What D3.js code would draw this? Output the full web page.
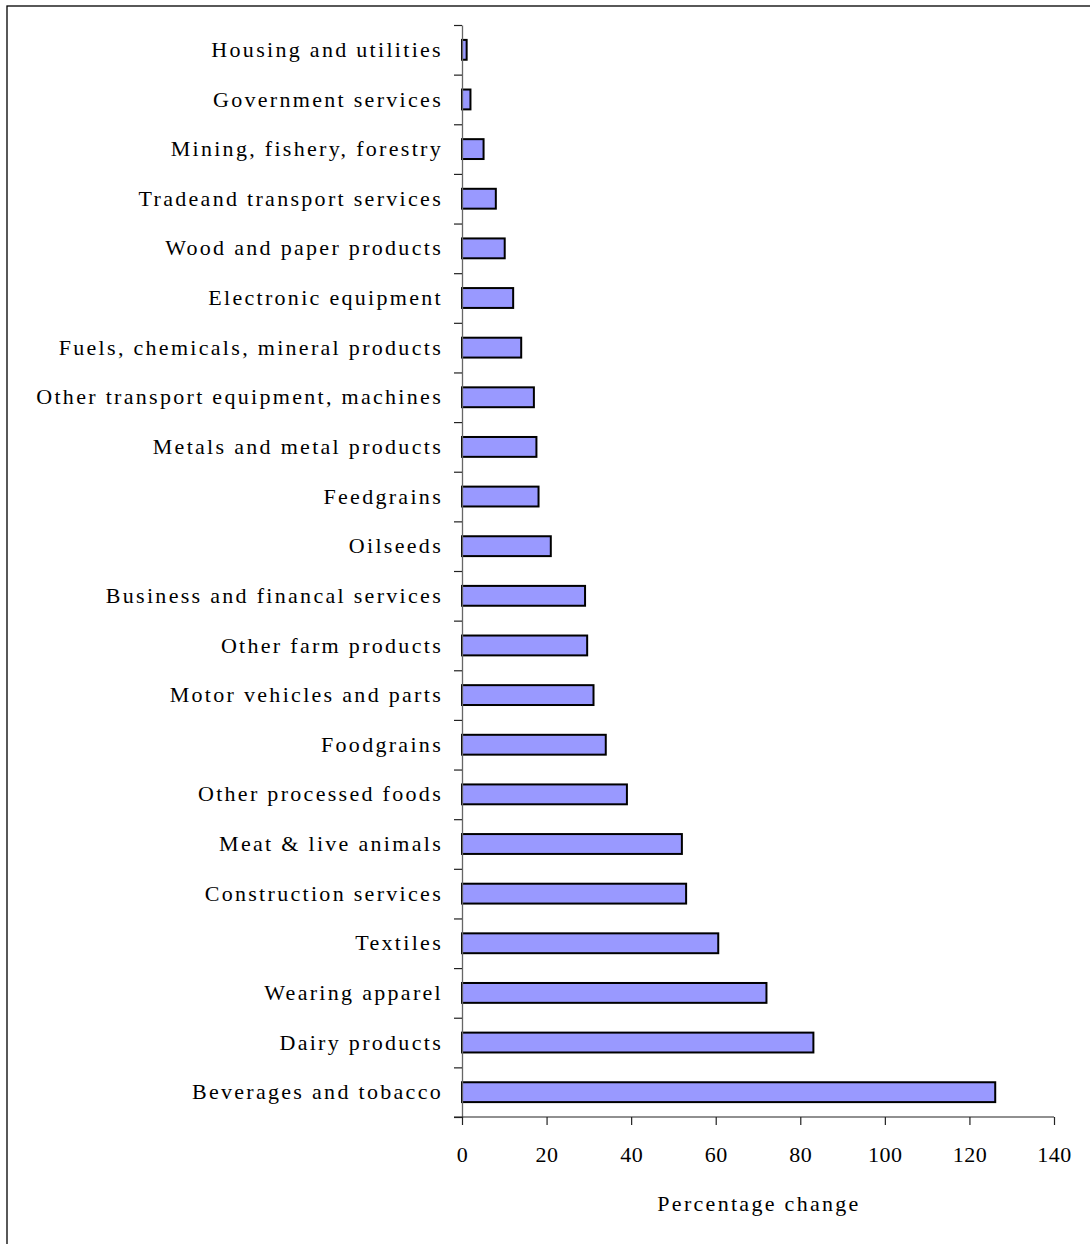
<!DOCTYPE html>
<html>
<head>
<meta charset="utf-8">
<script src="https://cdn.jsdelivr.net/npm/d3@7"></script>
<style>
  html, body { margin: 0; padding: 0; background: #fff; }
  svg text { font-family: "Liberation Serif", "Times New Roman", serif; fill: #000; }
</style>
</head>
<body>
<svg id="chart" width="1090" height="1244"></svg>
<script>
// Sectors, top to bottom as drawn
let sectors = [
  "Housing and utilities",
  "Government services",
  "Mining, fishery, forestry",
  "Tradeand transport services",
  "Wood and paper products",
  "Electronic equipment",
  "Fuels, chemicals, mineral products",
  "Other transport equipment, machines",
  "Metals and metal products",
  "Feedgrains",
  "Oilseeds",
  "Business and financal services",
  "Other farm products",
  "Motor vehicles and parts",
  "Foodgrains",
  "Other processed foods",
  "Meat & live animals",
  "Construction services",
  "Textiles",
  "Wearing apparel",
  "Dairy products",
  "Beverages and tobacco"
];

// Percentage change per sector
let pctChange = [1.1, 2.0, 5.1, 8.0, 10.1, 12.1, 14.0, 17.0, 17.6, 18.1, 21.0,
  29.1, 29.6, 31.1, 34.0, 39.0, 52.0, 53.0, 60.6, 72.0, 83.1, 126.1];

let xTicks = [0, 20, 40, 60, 80, 100, 120, 140];
let xTitle = "Percentage change";

let data = sectors.map((s, i) => ({ sector: s, value: pctChange[i] }));

let svg = d3.select("#chart");

// outer frame (only top and left edges fall inside the picture)
svg.append("rect")
  .attr("x", 7).attr("y", 6)
  .attr("width", 1200).attr("height", 1400)
  .attr("fill", "none")
  .attr("stroke", "#000")
  .attr("stroke-width", 1.3);

let plotLeft = 462, plotRight = 1054, plotTop = 25, plotBottom = 1117;

let xScale = d3.scaleLinear().domain([0, 140]).range([plotLeft, plotRight]);

// inner padding 0.6 and outer 0.3 keeps the step equal to range / n
let yScale = d3.scaleBand()
  .domain(sectors)
  .range([plotTop, plotBottom])
  .paddingInner(0.6)
  .paddingOuter(0.3);

let idxScale = d3.scaleLinear().domain([0, sectors.length]).range([plotTop, plotBottom]);

// bars
svg.append("g")
  .selectAll("rect")
  .data(data)
  .join("rect")
  .attr("x", xScale(0))
  .attr("y", d => yScale(d.sector))
  .attr("width", d => xScale(d.value) - xScale(0))
  .attr("height", yScale.bandwidth())
  .attr("fill", "#9999ff")
  .attr("stroke", "#000")
  .attr("stroke-width", 2);

// y axis: tick marks between categories
let yTickAxis = d3.axisLeft(idxScale)
  .tickValues(d3.range(0, sectors.length + 1))
  .tickFormat("")
  .tickSize(8)
  .tickSizeOuter(0);
let gy = svg.append("g")
  .attr("transform", "translate(" + plotLeft + ",0)")
  .call(yTickAxis);
gy.select(".domain").attr("stroke", "#666").attr("stroke-width", 1.3);
gy.selectAll(".tick line").attr("stroke", "#222").attr("stroke-width", 1.2);

// y axis labels
let yLabelAxis = d3.axisLeft(yScale).tickSize(0).tickPadding(19);
let gyl = svg.append("g")
  .attr("transform", "translate(" + plotLeft + ",0)")
  .call(yLabelAxis);
gyl.select(".domain").remove();
gyl.attr("font-family", null).attr("font-size", null);
gyl.selectAll("text")
  .style("font-size", "22px")
  .style("letter-spacing", "2.3px");

// x axis
let xAxis = d3.axisBottom(xScale)
  .tickValues(xTicks)
  .tickSize(8)
  .tickSizeOuter(0)
  .tickPadding(21);
let gx = svg.append("g")
  .attr("transform", "translate(0," + plotBottom + ")")
  .call(xAxis);
gx.attr("font-family", null).attr("font-size", null);
gx.select(".domain").attr("stroke", "#222").attr("stroke-width", 1.2)
  .attr("d", "M" + (plotLeft - 8) + ",0H" + plotRight);
gx.selectAll(".tick line").attr("stroke", "#222").attr("stroke-width", 1.2);
gx.selectAll("text")
  .style("font-size", "22px")
  .style("letter-spacing", "0.5px");

svg.append("text")
  .attr("x", (plotLeft + plotRight) / 2 + 1)
  .attr("y", 1211)
  .attr("text-anchor", "middle")
  .style("font-size", "22px")
  .style("letter-spacing", "2.3px")
  .text(xTitle);
</script>
</body>
</html>
